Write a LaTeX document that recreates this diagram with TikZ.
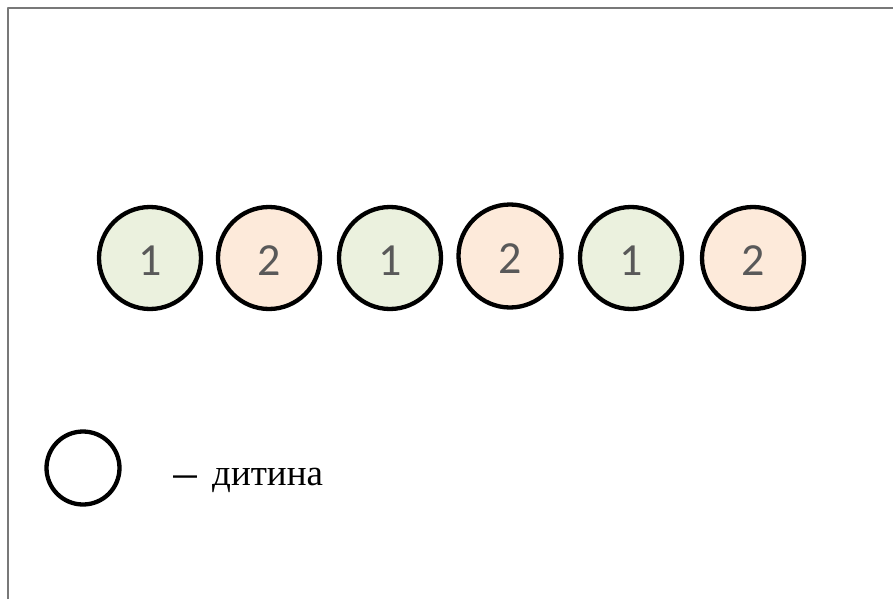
\documentclass[tikz,border=0pt]{standalone}
\usepackage{fontspec}
\setmainfont{Liberation Serif}
\newfontfamily\calibrifont{Carlito}
\newfontfamily\arialfont{Liberation Sans}
\definecolor{kidgreen}{HTML}{EBF1DE}
\definecolor{kidorange}{HTML}{FDEADA}
\definecolor{numgray}{HTML}{595959}
\definecolor{framegray}{HTML}{787878}
\begin{document}
\begin{tikzpicture}[x=1pt,y=-1pt,line cap=round,line join=round,
  kid/.style={circle,draw=black,line width=4.3pt,minimum size=102pt,inner sep=0pt,
    font=\calibrifont\fontsize{46}{46}\selectfont,text=numgray,text height=34pt,text depth=0pt},
  kidone/.style={kid,fill=kidgreen},
  kidtwo/.style={kid,fill=kidorange}]
  \useasboundingbox (0,0) rectangle (893,599);
  % frame
  \draw[framegray,line width=2pt,line cap=butt] (8,599) -- (8,8.5) -- (893,8.5);
  % row of children
  \node[kidone] (c1) at (150,258) {1};
  \node[kidtwo] (c2) at (269,258) {2};
  \node[kidone] (c3) at (390,258) {1};
  \node[kidtwo,minimum size=103pt] (c4) at (510,256) {2};
  \node[kidone] (c5) at (631,258) {1};
  \node[kidtwo] (c6) at (753,258) {2};
  % legend
  \node[circle,draw=black,line width=4.3pt,minimum size=73pt,inner sep=0pt] (key) at (83,468) {};
  \node[anchor=base west,font=\fontsize{37}{37}\selectfont,inner sep=0pt] (keytext) at (173,485)
    {{\arialfont\fontsize{24}{24}\selectfont\bfseries\raisebox{2pt}{—}}\hspace{15pt}дитина};
\end{tikzpicture}
\end{document}
